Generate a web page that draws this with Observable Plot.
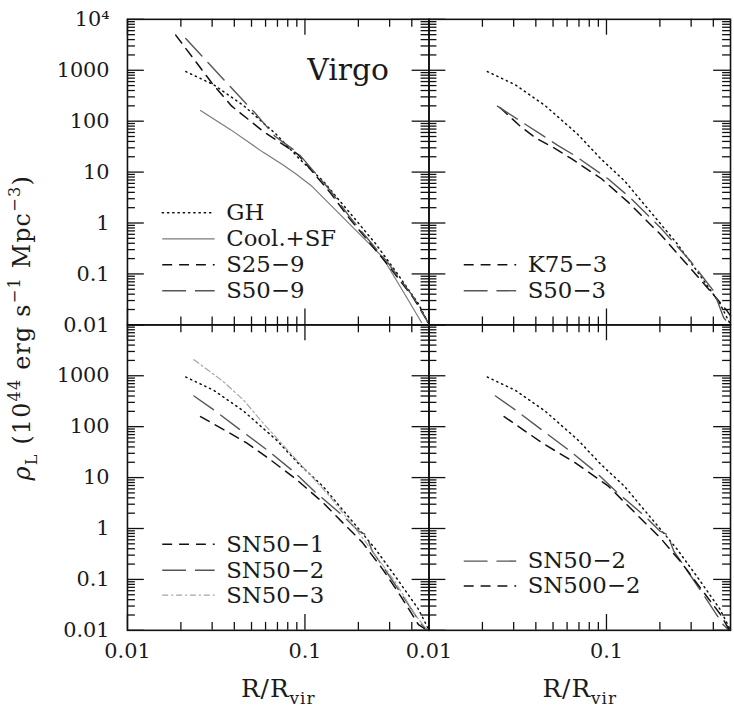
<!DOCTYPE html>
<html><head><meta charset="utf-8">
<script src="https://cdn.jsdelivr.net/npm/d3@7"></script>
<script src="https://cdn.jsdelivr.net/npm/@observablehq/plot@0.6"></script>
<style>
body{margin:0;background:#fff;}
#wrap{width:734px;height:721px;overflow:hidden;position:relative;background:#fff;}
</style></head><body><div id="wrap"></div>
<script>
// ---- data ----
const ghX   = [0.0213,0.0306,0.045,0.069,0.093,0.126,0.177,0.249,0.322,0.436,0.497];
const ghY   = [944,520,204,55,18.2,6.8,1.66,0.40,0.117,0.026,0.0105];
const coolX = [0.0258,0.0379,0.0582,0.075,0.0891,0.11,0.137,0.21,0.272,0.352,0.454];
const coolY = [162,69,24.4,14,9.2,5.2,2.4,0.54,0.22,0.0495,0.0111];
const s259X = [0.0187,0.0231,0.0299,0.0387,0.0594,0.0912,0.14,0.177,0.215,0.29,0.408,0.495];
const s259Y = [4890,1850,561,197,59.7,22.4,3.8,1.26,0.56,0.158,0.034,0.0112];
const s509X = [0.0213,0.0356,0.0522,0.0676,0.0912,0.14,0.177,0.215,0.29,0.408,0.49];
const s509Y = [4200,603,146,51,24,4.2,1.38,0.60,0.174,0.0355,0.0117];
const k753X = [0.0251,0.0321,0.0398,0.0514,0.0638,0.0938,0.132,0.203,0.285,0.385,0.478,0.5];
const k753Y = [186,84,47,29,18.1,7.4,2.6,0.58,0.152,0.046,0.0188,0.015];
const s503X = [0.0243,0.0537,0.0665,0.102,0.138,0.203,0.298,0.402,0.457,0.5];
const s503Y = [197,32.8,21,7.4,3.0,0.785,0.177,0.046,0.0139,0.0095];
const sn501X = [0.0258,0.0348,0.0469,0.0634,0.0891,0.126,0.169,0.21,0.272,0.352,0.436,0.49];
const sn501Y = [158,87.5,48,22.8,9.3,3.27,1.15,0.54,0.165,0.043,0.013,0.01];
const sn502X = [0.0237,0.0306,0.043,0.0607,0.0855,0.115,0.163,0.20,0.221,0.24,0.272,0.352,0.454,0.49];
const sn502Y = [401,214,87.5,35.7,13.5,5.1,1.8,0.89,0.76,0.355,0.19,0.05,0.013,0.01];
const sn503X = [0.0237,0.0348,0.045,0.0582,0.0891,0.137,0.193,0.249,0.322,0.417,0.49];
const sn503Y = [2065,760,335,117,22.8,4.4,0.99,0.30,0.0906,0.0204,0.01];
const sn5002X = [0.0265,0.0434,0.0665,0.102,0.144,0.203,0.262,0.339,0.439,0.49];
const sn5002Y = [158,48,19.6,6.9,2.08,0.63,0.222,0.0675,0.0204,0.0105];

const legendTL = ["GH","Cool.+SF","S25\u22129","S50\u22129"];
const legendTR = ["K75\u22123","S50\u22123"];
const legendBL = ["SN50\u22121","SN50\u22122","SN50\u22123"];
const legendBR = ["SN50\u22122","SN500\u22122"];

const yMajorTicks = [0.01,0.1,1,10,100,1000,10000];
const yTickLabels = ["0.01","0.1","1","10","100","1000","10\u2074"];
const xMajorTicks = [0.01,0.1];
const xTickLabels = ["0.01","0.1"];
const xMinorTicks = [0.02,0.03,0.04,0.05,0.06,0.07,0.08,0.09,0.2,0.3,0.4];
const yMinorTicks = [];
for (let k = -2; k <= 3; k++) for (let m = 2; m <= 9; m++) yMinorTicks.push(+(m * Math.pow(10, k)).toPrecision(3));

// ---- styles / layout ----
const styles = {
  dotted:    {stroke:"#111", strokeWidth:1.5, strokeDasharray:"1.3,4", strokeLinecap:"round"},
  solidGray: {stroke:"#7a7a7a", strokeWidth:1.2},
  shortDash: {stroke:"#111", strokeWidth:1.5, strokeDasharray:"10,7"},
  longDash:  {stroke:"#555", strokeWidth:1.4, strokeDasharray:"24,9"},
  dashDot:   {stroke:"#a5a5a5", strokeWidth:1.2, strokeDasharray:"6,3,2,3"}
};
const ALL = [["L","T"],["R","T"],["L","B"],["R","B"]];
const curves = [
  {xs:ghX, ys:ghY, style:"dotted", in:ALL},
  {xs:coolX, ys:coolY, style:"solidGray", in:[["L","T"]]},
  {xs:s259X, ys:s259Y, style:"shortDash", in:[["L","T"]]},
  {xs:s509X, ys:s509Y, style:"longDash", in:[["L","T"]]},
  {xs:k753X, ys:k753Y, style:"shortDash", in:[["R","T"]]},
  {xs:s503X, ys:s503Y, style:"longDash", in:[["R","T"]]},
  {xs:sn501X, ys:sn501Y, style:"shortDash", in:[["L","B"]]},
  {xs:sn502X, ys:sn502Y, style:"longDash", in:[["L","B"],["R","B"]]},
  {xs:sn503X, ys:sn503Y, style:"dashDot", in:[["L","B"]]},
  {xs:sn5002X, ys:sn5002Y, style:"shortDash", in:[["R","B"]]}
];
// legend layout: [panel fx, fy, labels, styles, positions in decades]
const legendLayout = [
  ["L","T",legendTL,["dotted","solidGray","shortDash","longDash"],[0.2,-0.31,-0.82,-1.33]],
  ["R","T",legendTR,["shortDash","longDash"],[-0.82,-1.33]],
  ["L","B",legendBL,["shortDash","longDash","dashDot"],[-0.31,-0.82,-1.31]],
  ["R","B",legendBR,["longDash","shortDash"],[-0.64,-1.13]]
];
const legendRows = [];
for (const [fx, fy, labels, sts, pos] of legendLayout)
  labels.forEach((label, i) => legendRows.push({fx, fy, label, style: sts[i], y: Math.pow(10, pos[i]), x1: 0.0157, x2: 0.031, tx: 0.036}));

const W = 304, H = 308;
const tickStyle = {stroke:"#111", strokeWidth:1.3};
function yTicks(values, len) {
  return [Plot.tickY(values, {y: d => d, insetRight: W - len, ...tickStyle}),
          Plot.tickY(values, {y: d => d, insetLeft: W - len, ...tickStyle})];
}
function xTicks(values, len) {
  return [Plot.tickX(values, {x: d => d, insetTop: H - len, ...tickStyle}),
          Plot.tickX(values, {x: d => d, insetBottom: H - len, ...tickStyle})];
}

const marks = [];
for (const c of curves) {
  const rows = [];
  for (const [fx, fy] of c.in) c.xs.forEach((x, i) => rows.push({x, y: c.ys[i], fx, fy}));
  marks.push(Plot.line(rows, {x:"x", y:"y", fx:"fx", fy:"fy", ...styles[c.style]}));
}
for (const st of Object.keys(styles)) {
  const rows = legendRows.filter(r => r.style === st);
  if (rows.length) marks.push(Plot.link(rows, {x1:"x1", x2:"x2", y1:"y", y2:"y", fx:"fx", fy:"fy", ...styles[st]}));
}
marks.push(Plot.text(legendRows, {x:"tx", y:"y", fx:"fx", fy:"fy", text:"label", textAnchor:"start", lineAnchor:"middle", fontSize:23, fill:"#1a1a1a"}));

marks.push(...yTicks(yMinorTicks, 8), ...yTicks(yMajorTicks, 17), ...xTicks(xMinorTicks, 8), ...xTicks(xMajorTicks, 16));
marks.push(Plot.frame({stroke:"#111", strokeWidth:1.6}));

// tick labels
const yLabRows = [];
yMajorTicks.forEach((v, i) => {
  yLabRows.push({v, label: yTickLabels[i], fx:"L", fy:"T"});
  if (v < 10000) yLabRows.push({v, label: yTickLabels[i], fx:"L", fy:"B"});
});
marks.push(Plot.text(yLabRows, {x: () => 0.01, y:"v", fx:"fx", fy:"fy", text:"label", textAnchor:"end", lineAnchor:"middle", dx:-18, fontSize:21, fill:"#1a1a1a"}));
const xLabRows = [];
for (const fx of ["L","R"]) xMajorTicks.forEach((v, i) => xLabRows.push({v, label: xTickLabels[i], fx, fy:"B"}));
marks.push(Plot.text(xLabRows, {x:"v", y: () => 0.01, fx:"fx", fy:"fy", text:"label", lineAnchor:"middle", dy:21, fontSize:21, fill:"#1a1a1a"}));

// axis titles and panel label
marks.push(Plot.text([{fx:"L", fy:"B"},{fx:"R", fy:"B"}], {fx:"fx", fy:"fy", frameAnchor:"bottom", text: () => "R/Rvir", textAnchor:"middle", lineAnchor:"middle", dy:59, fontSize:25, fill:"#1a1a1a"}));
marks.push(Plot.text([{fx:"L", fy:"T"}], {fx:"fx", fy:"fy", frameAnchor:"bottom-left", text: () => "\u03c1L (1044 erg s\u22121 Mpc\u22123)", rotate:-90, textAnchor:"middle", lineAnchor:"middle", dx:-106, dy:3, fontSize:24, fill:"#1a1a1a"}));
marks.push(Plot.text([{fx:"L", fy:"T", x:0.175, y:1000}], {x:"x", y:"y", fx:"fx", fy:"fy", text: () => "Virgo", textAnchor:"middle", lineAnchor:"middle", fontSize:30, fill:"#1a1a1a"}));

const svg = Plot.plot({
  width: 740, height: 721,
  marginLeft: 128, marginRight: 4, marginTop: 19, marginBottom: 86,
  fx: {domain:["L","R"], padding:0, axis:null, label:null},
  fy: {domain:["T","B"], padding:0, axis:null, label:null},
  x: {type:"log", domain:[0.01, 0.5], axis:null},
  y: {type:"log", domain:[0.01, 10000], axis:null},
  style: {fontFamily:"'DejaVu Serif', serif", fontSize:"21px", background:"#fff", color:"#111"},
  marks
});
document.getElementById("wrap").appendChild(svg);

// rich text (sub/superscripts)
const NS = "http://www.w3.org/2000/svg";
function richText(el, parts, fs) {
  el.textContent = "";
  let cur = 0;
  for (const [t, kind, italic] of parts) {
    const target = kind === "sup" ? -0.42 * fs : kind === "sub" ? 0.3 * fs : 0;
    const ts = document.createElementNS(NS, "tspan");
    ts.setAttribute("dy", target - cur);
    if (kind) ts.setAttribute("font-size", 0.68 * fs);
    if (italic) ts.setAttribute("font-style", "italic");
    ts.textContent = t;
    el.appendChild(ts);
    cur = target;
  }
}
svg.querySelectorAll("text").forEach(el => {
  const s = el.textContent;
  if (s === "R/Rvir") { richText(el, [["R/R"],["vir","sub"]], 25); el.setAttribute("letter-spacing", "1"); }
  else if (s === "\u03c1L (1044 erg s\u22121 Mpc\u22123)") {
    richText(el, [["\u03c1", null, true],["L","sub"],[" (10"],["44","sup"],[" erg s"],["\u22121","sup"],[" Mpc"],["\u22123","sup"],[")"]], 24);
    el.setAttribute("letter-spacing", "1.2");
  }
});
</script>
</body></html>
